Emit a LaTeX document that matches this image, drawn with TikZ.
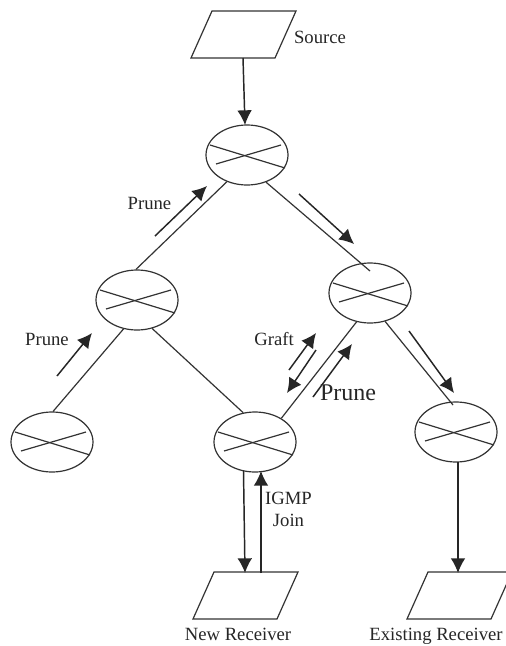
\documentclass[tikz,border=0pt]{standalone}
\usepackage{fontspec}
\setmainfont{Liberation Serif}
\usetikzlibrary{arrows.meta,calc,shapes.geometric}
\definecolor{ink}{HTML}{333333}
\tikzset{
  routerbox/.style={draw=ink,line width=0.9pt,ellipse,minimum width=61.5pt,minimum height=45pt,inner sep=0pt},
  crossline/.style={draw=ink,line width=0.9pt},
  link/.style={draw=ink,line width=0.9pt},
  flow/.style={draw=black!85,line width=1.1pt,-{Latex[length=11pt,width=11pt]}},
  hostbox/.style={draw=ink,line width=0.9pt,line join=miter},
  lbl/.style={font=\fontsize{14pt}{17pt}\selectfont,text=black!85,inner sep=0pt,align=center},
  biglbl/.style={font=\fontsize{18pt}{20pt}\selectfont,text=black!85,inner sep=0pt},
}
\newcommand{\routerat}[3]{%
  \node[routerbox] (#1) at (#2,#3) {};
  \path[crossline] ($(#1)+(-37,-10)$) -- ($(#1)+(38,13)$);
  \path[crossline] ($(#1)+(-31,9)$) -- ($(#1)+(34,-10)$);
}
\newcommand{\hostat}[3]{%
  \coordinate (#1) at (#2,#3);
  \path[hostbox] ($(#1)+(21,-23.5)$) -- ($(#1)+(105,-23.5)$) -- ($(#1)+(84,23.5)$) -- ($(#1)+(0,23.5)$) -- cycle;
}
\begin{document}
\begin{tikzpicture}[x=0.75pt,y=-0.75pt]
\useasboundingbox (0,0) rectangle (506,646);
\fill[white] (0,0) rectangle (506,646);
% hosts
\hostat{src}{191}{34.5}
\hostat{newr}{193}{595.5}
\hostat{exr}{407}{595.5}
% routers
\routerat{rt}{247}{155}
\routerat{rl}{137}{300}
\routerat{rr}{370}{293}
\routerat{rbl}{52}{442}
\routerat{rbm}{255}{442}
\routerat{rbr}{456}{432}
% connection points
\coordinate (srcout) at (243,58);
\coordinate (srcin) at (245,125);
\coordinate (nrtop) at (245,573);
\coordinate (nrtopb) at (261,573);
\coordinate (erout) at (458,462);
\coordinate (ertop) at (458,573);
\coordinate (rrtop) at (370,271);
\coordinate (rbrtop) at (453,405);
% links
\draw[link] (rt.-127) -- (rl.92);
\draw[link] (rt.-55) -- (rrtop);
\draw[link] (rl.-115) -- (rbl.88);
\draw[link] (rl.-62) -- (rbm.112);
\draw[link] (rr.-115) -- (rbm.42);
\draw[link] (rr.-62) -- (rbrtop);
% flow arrows
\draw[flow] (srcout) -- (srcin);
\coordinate (a1s) at (155,236); \coordinate (a1e) at (207,186);
\draw[flow] (a1s) -- (a1e);
\coordinate (a2s) at (299,194); \coordinate (a2e) at (354,244);
\draw[flow] (a2s) -- (a2e);
\coordinate (a3s) at (57,376); \coordinate (a3e) at (92,333);
\draw[flow] (a3s) -- (a3e);
\coordinate (a4s) at (289,370); \coordinate (a4e) at (316,333);
\draw[flow] (a4s) -- (a4e);
\coordinate (a5s) at (316,350); \coordinate (a5e) at (287,393);
\draw[flow] (a5s) -- (a5e);
\coordinate (a6s) at (313,397); \coordinate (a6e) at (352,344);
\draw[flow] (a6s) -- (a6e);
\coordinate (a7s) at (409,331); \coordinate (a7e) at (454,393);
\draw[flow] (a7s) -- (a7e);
\coordinate (a8s) at (243.5,471);
\draw[flow] (a8s) -- (nrtop);
\coordinate (a9e) at (261,471);
\draw[flow] (nrtopb) -- (a9e);
\draw[flow] (erout) -- (ertop);
% labels
\node[lbl] (tsrc) at (320,37) {Source};
\node[lbl] (tp1) at (149.5,203) {Prune};
\node[lbl] (tp2) at (47,339) {Prune};
\node[lbl] (tgr) at (274,339) {Graft};
\node[biglbl] (tp3) at (348,393) {Prune};
\node[lbl] (tig) at (288.5,509.5) {IGMP\\Join};
\node[lbl,anchor=base] (tnr) at (238,640) {New Receiver};
\node[lbl,anchor=base] (ter) at (436,640) {Existing Receiver};
\end{tikzpicture}
\end{document}
